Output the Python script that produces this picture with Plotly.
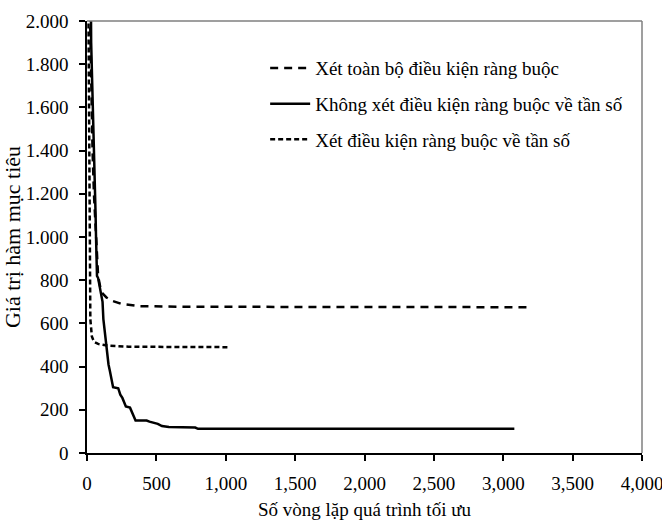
import plotly.graph_objects as go

# ---- data ----
names = [
    "Xét toàn bộ điều kiện ràng buộc",
    "Không xét điều kiện ràng buộc về tần số",
    "Xét điều kiện ràng buộc về tần số",
]

x_all = [20, 30, 40, 50, 60, 70, 80, 95, 110, 140, 180, 250, 380, 700, 3200]
y_all = [2100, 1700, 1400, 1200, 1050, 920, 820, 770, 740, 720, 705, 690, 680, 677, 675]

x_nofreq = [25, 30, 38, 45, 50, 55, 58, 62, 65, 68, 72, 80, 86, 95, 105, 112, 118, 125,
            135, 145, 155, 165, 175, 188, 225, 240, 255, 270, 280, 310, 325, 340, 350,
            430, 450, 510, 540, 590, 780, 800, 3080]
y_nofreq = [2400, 1900, 1700, 1550, 1420, 1300, 1200, 1100, 1000, 880, 820, 810, 790, 760,
            740, 700, 620, 580, 510, 460, 410, 380, 340, 305, 300, 270, 255, 225, 215, 210,
            185, 160, 150, 150, 145, 135, 125, 120, 118, 112, 112]

x_freq = [10, 15, 18, 20, 22, 24, 35, 50, 80, 150, 300, 1030]
y_freq = [2100, 1600, 1200, 1000, 800, 620, 540, 515, 505, 497, 492, 490]

x_tickvals = [0, 500, 1000, 1500, 2000, 2500, 3000, 3500, 4000]
x_ticktext = ["0", "500", "1,000", "1,500", "2,000", "2,500", "3,000", "3,500", "4,000"]
y_tickvals = [0, 200, 400, 600, 800, 1000, 1200, 1400, 1600, 1800, 2000]
y_ticktext = ["0", "200", "400", "600", "800", "1.000", "1.200", "1.400", "1.600", "1.800", "2.000"]

x_title = "Số vòng lặp quá trình tối ưu"
y_title = "Giá trị hàm mục tiêu"

FONT = "Liberation Serif, Times New Roman, serif"

fig = go.Figure()
fig.add_trace(go.Scatter(x=x_all, y=y_all, mode="lines", name=names[0], legendgroup="a",
                         line=dict(color="black", width=2.5, dash="8px,6px")))
fig.add_trace(go.Scatter(x=x_nofreq, y=y_nofreq, mode="lines", name=names[1], legendgroup="b",
                         line=dict(color="black", width=2.5)))
fig.add_trace(go.Scatter(x=x_freq, y=y_freq, mode="lines", name=names[2], legendgroup="c",
                         line=dict(color="black", width=2.5, dash="5px,3px")))

fig.update_layout(
    width=662, height=530,
    margin=dict(l=87, r=20, t=21, b=77, autoexpand=False),
    paper_bgcolor="white", plot_bgcolor="white",
    font=dict(family=FONT, size=19, color="black"),
    showlegend=True,
    legend=dict(x=0.321, xanchor="left", y=0.935, yanchor="top",
                bgcolor="rgba(0,0,0,0)", borderwidth=0, itemwidth=40,
                font=dict(family=FONT, size=19, color="black"),
                traceorder="grouped", tracegroupgap=8),
    xaxis=dict(range=[0, 4000], tickvals=x_tickvals, ticktext=x_ticktext,
               showgrid=False, zeroline=False, showline=True, linecolor="black", linewidth=1.5,
               ticks="outside", ticklen=6, tickcolor="black", tickwidth=1.5,
               ticklabelstandoff=6, ticklabeloverflow="allow",
               tickfont=dict(family=FONT, size=19),
               title=dict(text=x_title, font=dict(family=FONT, size=19), standoff=10)),
    yaxis=dict(range=[0, 2000], tickvals=y_tickvals, ticktext=y_ticktext,
               showgrid=False, zeroline=False, showline=True, linecolor="black", linewidth=1.5,
               ticks="outside", ticklen=6, tickcolor="black", tickwidth=1.5,
               ticklabelstandoff=7,
               tickfont=dict(family=FONT, size=19),
               title=dict(text=y_title, font=dict(family=FONT, size=22), standoff=2)),
    shapes=[
        dict(type="line", xref="paper", yref="paper", x0=0, x1=1, y0=1, y1=1,
             line=dict(color="#7f7f7f", width=1.5)),
        dict(type="line", xref="paper", yref="paper", x0=1, x1=1, y0=0, y1=1,
             line=dict(color="#7f7f7f", width=1.5)),
    ],
)

fig.write_html("out.html", config={"displayModeBar": False},
               post_script="document.body.style.margin='0';document.body.style.overflow='hidden';")
